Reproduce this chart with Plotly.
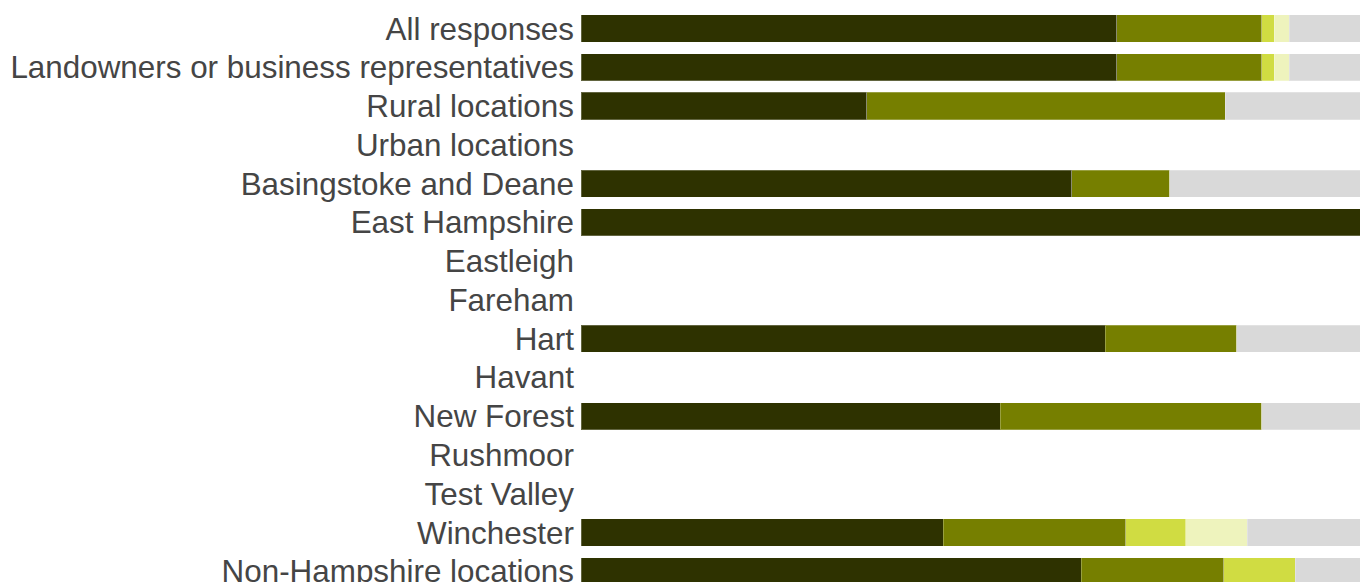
import plotly.graph_objects as go

categories = [
    "All responses",
    "Landowners or business representatives",
    "Rural locations",
    "Urban locations",
    "Basingstoke and Deane",
    "East Hampshire",
    "Eastleigh",
    "Fareham",
    "Hart",
    "Havant",
    "New Forest",
    "Rushmoor",
    "Test Valley",
    "Winchester",
    "Non-Hampshire locations",
]

# shares in percent, one list per response option (None = no responses)
strongly_agree = [68.8, 68.8, 36.7, None, 63.0, 100, None, None, 67.3, None, 53.8, None, None, 46.5, 64.2]
agree = [18.6, 18.6, 46.0, None, 12.6, 0, None, None, 16.9, None, 33.6, None, None, 23.4, 18.3]
disagree = [1.6, 1.6, 0, None, 0, 0, None, None, 0, None, 0, None, None, 7.7, 9.2]
strongly_disagree = [1.9, 1.9, 0, None, 0, 0, None, None, 0, None, 0, None, None, 7.9, 0]
dont_know = [9.1, 9.1, 17.3, None, 24.4, 0, None, None, 15.8, None, 12.6, None, None, 14.5, 8.3]

series = [
    ("Strongly agree", strongly_agree, "#2e3200"),
    ("Agree", agree, "#767f00"),
    ("Disagree", disagree, "#d0dc42"),
    ("Strongly disagree", strongly_disagree, "#eef3bd"),
    ("Don't know", dont_know, "#d9d9d9"),
]

fig = go.Figure()
for name, vals, col in series:
    fig.add_trace(go.Bar(
        y=categories, x=vals, name=name, orientation="h",
        marker=dict(color=col, line=dict(color="rgba(255,255,255,0.25)", width=1)),
    ))

fig.update_layout(
    barmode="stack",
    bargap=0.3,
    width=1360, height=582,
    margin=dict(l=581, r=0, t=0, b=0),
    paper_bgcolor="white",
    plot_bgcolor="white",
    showlegend=False,
    font=dict(family="Liberation Sans, Arial, sans-serif", size=31.4, color="#454545"),
)
fig.update_xaxes(range=[0, 100], showgrid=False, zeroline=False, showticklabels=False, fixedrange=True)
fig.update_yaxes(
    categoryorder="array", categoryarray=categories,
    range=[14.276, -0.735], showgrid=False, zeroline=False,
    ticks="", ticklabelstandoff=6, automargin=False,
)

# drop the default page margin so the figure sits at the window's corner
fig.write_html(
    "out.html",
    default_width="1360px", default_height="582px",
    config={"displayModeBar": False},
    post_script="document.body.style.margin='0';document.body.style.overflow='hidden';",
)
